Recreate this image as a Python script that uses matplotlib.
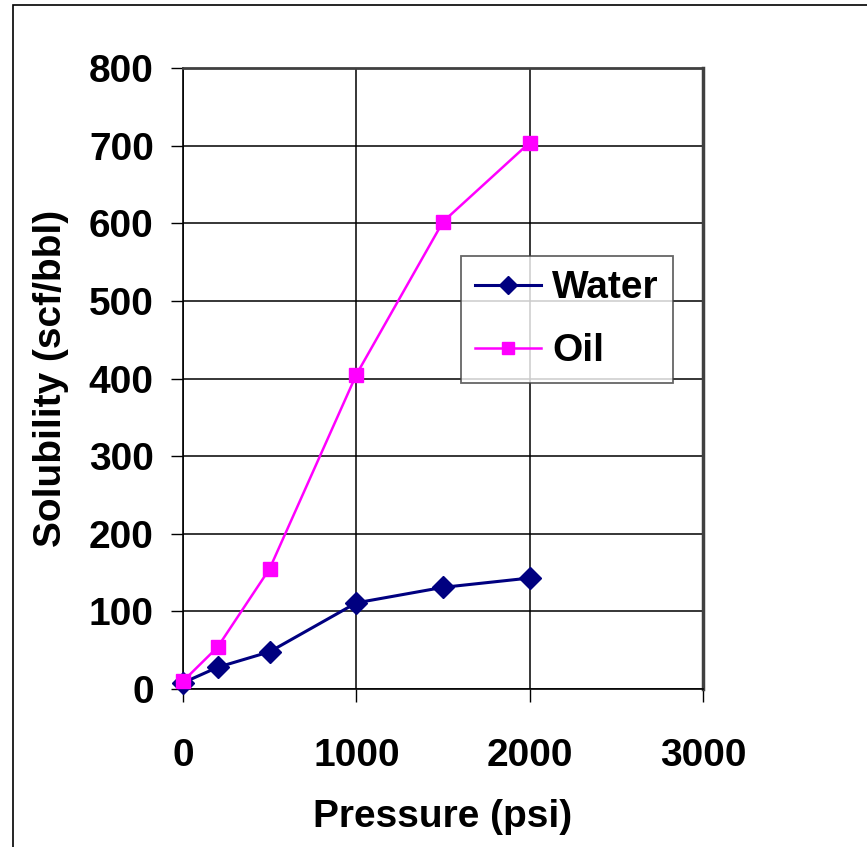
import matplotlib
matplotlib.use("Agg")
import matplotlib.pyplot as plt
from matplotlib.patches import Rectangle

plt.rcParams['font.family'] = ['Liberation Sans', 'DejaVu Sans']
plt.rcParams['font.weight'] = 'bold'

pressure = [0, 200, 500, 1000, 1500, 2000]
water = [8, 28, 48, 111, 131, 143]
oil = [10, 54, 155, 405, 602, 704]

x_ticks = [0, 1000, 2000, 3000]
y_ticks = [0, 100, 200, 300, 400, 500, 600, 700, 800]

fig = plt.figure(figsize=(8.67, 8.47), dpi=100, facecolor='w')
# outer frame of the chart object
fig.patches.append(Rectangle((13 / 867, -0.05), 1.0, 1 - 5 / 847 + 0.05,
                             transform=fig.transFigure, fill=False,
                             edgecolor='black', linewidth=1.2))

ax = fig.add_axes([0.211, 0.1865, 0.6, 0.7332])
ax.plot(pressure, water, color='#000080', marker='D', markersize=11,
        linewidth=2.2, label='Water', zorder=3, clip_on=False)
ax.plot(pressure, oil, color='#FF00FF', marker='s', markersize=10,
        linewidth=1.8, label='Oil', zorder=3, clip_on=False)

ax.set_xlim(0, 3000)
ax.set_ylim(0, 800)
ax.set_xticks(x_ticks)
ax.set_yticks(y_ticks)
ax.grid(True, color='black', linewidth=1.1)
ax.set_axisbelow(True)

ax.tick_params(axis='both', direction='out', length=9, width=1,
               labelsize=28)
ax.tick_params(axis='y', pad=12)
ax.tick_params(axis='x', pad=26)
for lab in ax.get_xticklabels() + ax.get_yticklabels():
    lab.set_fontweight('bold')

ax.spines['left'].set_linewidth(1.2)
ax.spines['bottom'].set_linewidth(1.2)
ax.spines['top'].set_color('#404040')
ax.spines['top'].set_linewidth(2)
ax.spines['right'].set_color('#404040')
ax.spines['right'].set_linewidth(2.5)

ax.set_xlabel('Pressure (psi)', fontsize=28, fontweight='bold', labelpad=18)
ax.set_ylabel('Solubility (scf/bbl)', fontsize=28, fontweight='bold', labelpad=14)

leg = ax.legend(loc='upper left', bbox_to_anchor=(0.535, 0.697),
                borderaxespad=0,
                prop={'size': 28, 'weight': 'bold'}, frameon=True,
                fancybox=False, edgecolor='#404040', handlelength=1.7,
                handletextpad=0.28, borderpad=0.36, labelspacing=0.7,
                markerscale=0.8)
leg.get_frame().set_linewidth(1.3)

fig.savefig('out.png', dpi=100, facecolor='w')
